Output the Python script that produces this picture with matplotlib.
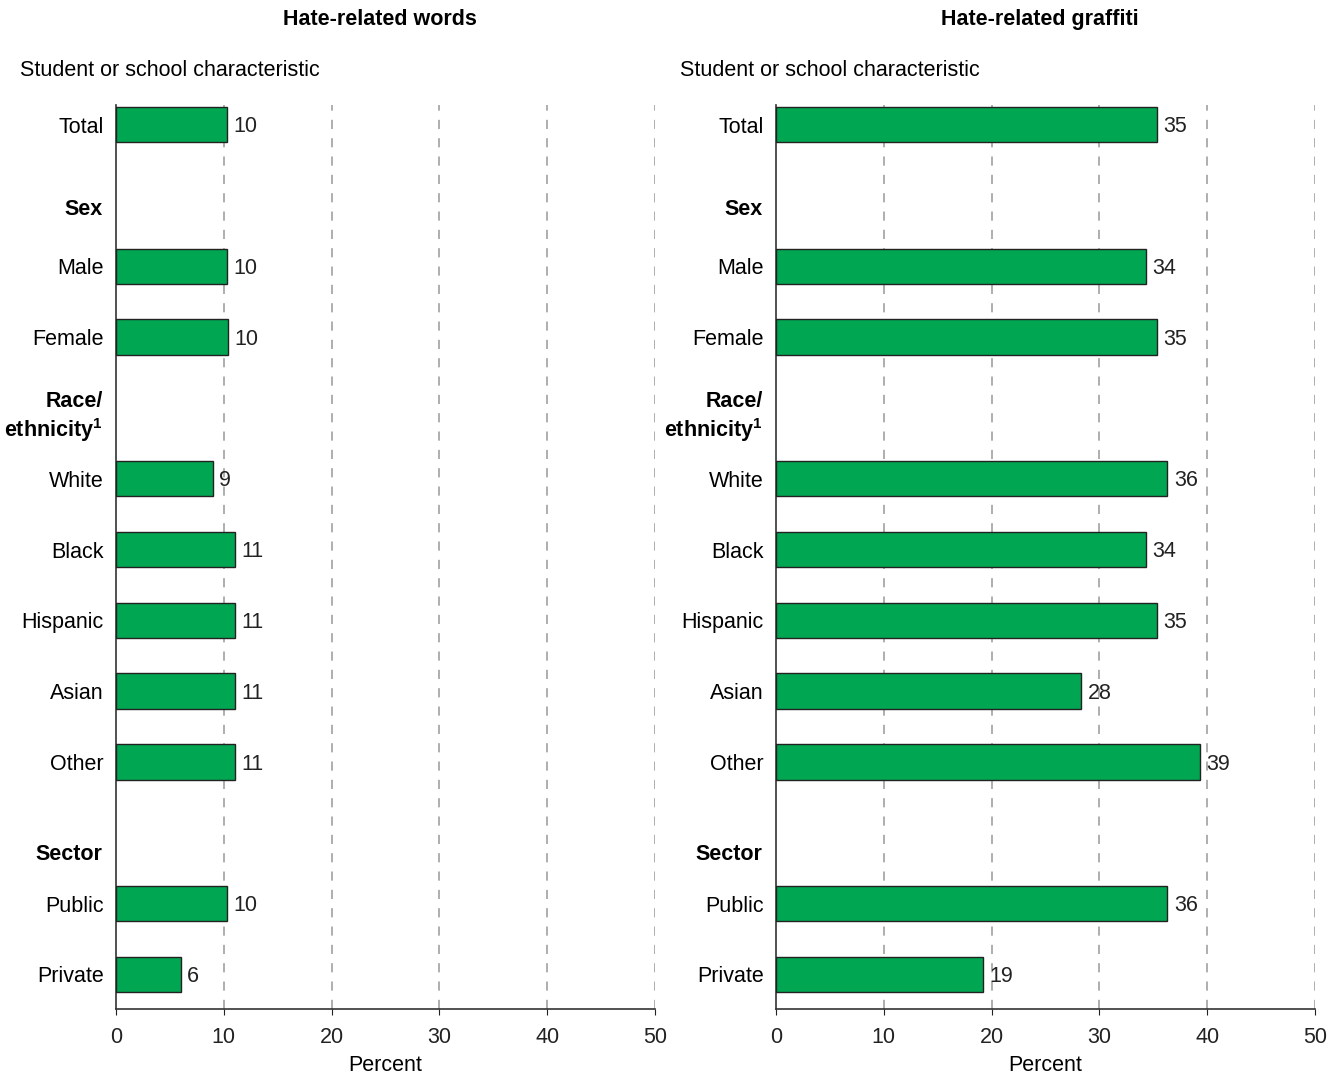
import numpy as np
import matplotlib.pyplot as plt

plt.rcParams['font.family'] = ['Liberation Sans', 'DejaVu Sans']

# rows with bars, and the bold group header rows in between
categories = ['Total', 'Male', 'Female', 'White', 'Black', 'Hispanic',
              'Asian', 'Other', 'Public', 'Private']
rows = [0, 2, 3, 5, 6, 7, 8, 9, 11, 12]
headers = ['Sex', 'Race/\nethnicity$^{\\mathregular{1}}$', 'Sector']
header_rows = [1.2, 4.13, 10.3]

words = [10, 10, 10, 9, 11, 11, 11, 11, 10, 6]
graffiti = [35, 34, 35, 36, 34, 35, 28, 39, 36, 19]
# plotted lengths (slightly more precise than rounded labels)
words_len = [10.3, 10.3, 10.4, 9.0, 11.0, 11.0, 11.0, 11.0, 10.3, 6.0]
graffiti_len = [35.3, 34.3, 35.3, 36.3, 34.3, 35.3, 28.3, 39.3, 36.3, 19.2]

titles = ['Hate-related words', 'Hate-related graffiti']
green = '#00A651'
fs = 15.5

fig = plt.figure(figsize=(13.38, 10.8), dpi=100)
axes = [fig.add_axes([0.0867, 0.0657, 0.4028, 0.8371]),
        fig.add_axes([0.5800, 0.0657, 0.4028, 0.8371])]

for ax, vals, lens, title in zip(axes, [words, graffiti],
                                  [words_len, graffiti_len], titles):
    ax.barh(rows, lens, height=0.5, color=green, edgecolor='#222222',
            linewidth=1.0, zorder=3)
    for r, v, l in zip(rows, vals, lens):
        ax.text(l + 0.6, r + 0.03, str(v), va='center', ha='left',
                fontsize=fs, color='#222222')
    ax.set_xlim(0, 50)
    ax.set_ylim(12.49, -0.28)
    ax.set_xticks([0, 10, 20, 30, 40, 50])
    ax.tick_params(axis='x', labelsize=fs, length=4, pad=9,
                   colors='#222222')
    ax.set_yticks(rows)
    ax.set_yticklabels(categories, fontsize=fs)
    ax.tick_params(axis='y', length=0, pad=9)
    for r, h in zip(header_rows, headers):
        ax.text(-0.025, r, h, transform=ax.get_yaxis_transform(),
                ha='right', va='center', fontsize=fs, fontweight='bold',
                multialignment='right', linespacing=1.2)
    for x in [10, 20, 30, 40, 50]:
        ax.axvline(x, color='#999999', linestyle=(0, (6, 6)), linewidth=1.1,
                   zorder=1)
    for s in ['top', 'right']:
        ax.spines[s].set_visible(False)
    ax.spines['left'].set_color('#333333')
    ax.spines['bottom'].set_color('#333333')
    ax.spines['left'].set_linewidth(1.2)
    ax.spines['bottom'].set_linewidth(1.2)
    ax.set_xlabel('Percent', fontsize=fs, labelpad=5)
    ax.set_title(title, fontsize=fs, fontweight='bold', pad=0,
                 x=0.49, y=1.088)
    ax.text(-0.178, 1.038, 'Student or school characteristic',
            transform=ax.transAxes, fontsize=fs, ha='left', va='center')

fig.savefig('out.png', dpi=100)
